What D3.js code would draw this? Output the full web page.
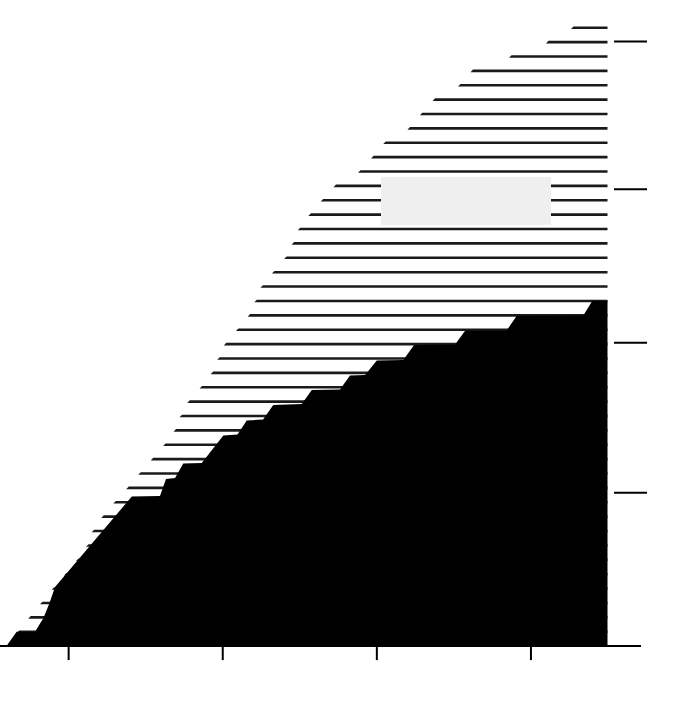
<!DOCTYPE html>
<html>
<head>
<meta charset="utf-8">
<script src="https://cdn.jsdelivr.net/npm/d3@7"></script>
<style>
  html, body { margin: 0; padding: 0; background: #fff; }
</style>
</head>
<body>
<div id="chart"></div>
<script>
// Row levels of the horizontal strokes (top row first)
const lineLevels = [43, 42, 41, 40, 39, 38, 37, 36, 35, 34, 33, 32, 31, 30, 29, 28, 27, 26, 25, 24, 23, 22,
    21, 20, 19, 18, 17, 16, 15, 14, 13, 12, 11, 10, 9, 8, 7, 6, 5, 4, 3, 2, 1];
// Start year of each stroke (they all run to the end year)
const lineStarts = [2012.63, 2011.01, 2008.61, 2006.11, 2005.30, 2003.65, 2002.82, 2002.02, 2000.45, 1999.66,
    1998.81, 1997.22, 1996.39, 1995.59, 1994.90, 1994.50, 1994.01, 1993.22, 1992.48, 1992.08, 1991.65,
    1990.89, 1990.10, 1989.67, 1989.25, 1988.53, 1987.73, 1987.23, 1986.84, 1986.16, 1985.36, 1984.55,
    1983.77, 1982.93, 1982.15, 1981.53, 1981.16, 1980.51, 1979.73, 1978.93, 1978.17, 1977.41, 1976.66];
const endYear = 2015;

// Outline of the filled (black) area, right to left
const areaYears = [2015, 2014.02, 2013.43, 2009.11, 2008.46, 2005.76, 2005.11, 2002.45, 2001.75, 2000.03,
    1999.27, 1998.29, 1997.64, 1995.81, 1995.16, 1993.31, 1992.65, 1991.59, 1990.99, 1990.07, 1988.67,
    1987.47, 1986.94, 1986.35, 1985.96, 1984.13, 1979.15, 1978.79, 1978.40, 1977.85, 1976.66, 1976];
const areaLevels = [24.02, 24.02, 22.99, 22.97, 21.95, 21.93, 20.97, 20.94, 19.90, 19.86,
    18.85, 18.82, 17.84, 17.81, 16.84, 16.77, 15.76, 15.69, 14.71, 14.65, 12.73,
    12.70, 11.69, 11.62, 10.44, 10.40, 4.11, 3.00, 1.95, 1.00, 1.00, 0];

// Axis ticks (no labels in the chart)
const xTicks = [1980, 1990, 2000, 2010];
const yTicks = [10.7, 21.13, 31.81, 42.08];

const width = 690;
const height = 720;

const svg = d3.select("#chart")
    .append("svg")
    .attr("width", width)
    .attr("height", height)
    .style("display", "block");

svg.append("rect")
    .attr("width", width)
    .attr("height", height)
    .attr("fill", "#fff");

// Scales
const x = d3.scaleLinear().domain([1976, 2015]).range([6.5, 607.5]);
const y = d3.scaleLinear().domain([0, 43]).range([646.1, 27.7]);

// Horizontal strokes, with a slanted left end
const strokeH = 2.6;
const lineData = lineLevels.map((lv, i) => ({ level: lv, start: lineStarts[i] }));

svg.append("g")
    .selectAll("path")
    .data(lineData)
    .join("path")
    .attr("d", d => {
        const x0 = x(d.start), x1 = x(endYear), yc = y(d.level);
        return `M${x0},${yc + strokeH / 2}L${x0 + 2.5},${yc - strokeH / 2}L${x1},${yc - strokeH / 2}L${x1},${yc + strokeH / 2}Z`;
    })
    .attr("fill", "#1a1a1a");

// Empty light grey box over the strokes
svg.append("rect")
    .attr("x", 381)
    .attr("y", 177)
    .attr("width", 170)
    .attr("height", 48)
    .attr("fill", "#efefef");

// Black stepped area
const areaData = areaYears.map((yr, i) => ({ year: yr, level: areaLevels[i] }));
const area = d3.area()
    .x(d => x(d.year))
    .y0(y(0))
    .y1(d => y(d.level));

svg.append("path")
    .datum(areaData)
    .attr("d", area)
    .attr("fill", "#000");

// Bottom axis: baseline and ticks
svg.append("line")
    .attr("x1", 0)
    .attr("x2", 641)
    .attr("y1", y(0))
    .attr("y2", y(0))
    .attr("stroke", "#000")
    .attr("stroke-width", 2);

const xAxis = svg.append("g")
    .attr("transform", `translate(0,${y(0)})`)
    .call(d3.axisBottom(x).tickValues(xTicks).tickSize(14).tickFormat(""));
xAxis.select(".domain").remove();
xAxis.selectAll(".tick line").attr("stroke", "#000").attr("stroke-width", 2);

// Right axis: detached ticks only
const yAxis = svg.append("g")
    .attr("transform", "translate(614,0)")
    .call(d3.axisRight(y).tickValues(yTicks).tickSize(33).tickFormat(""));
yAxis.select(".domain").remove();
yAxis.selectAll(".tick line").attr("stroke", "#000").attr("stroke-width", 2);
</script>
</body>
</html>
